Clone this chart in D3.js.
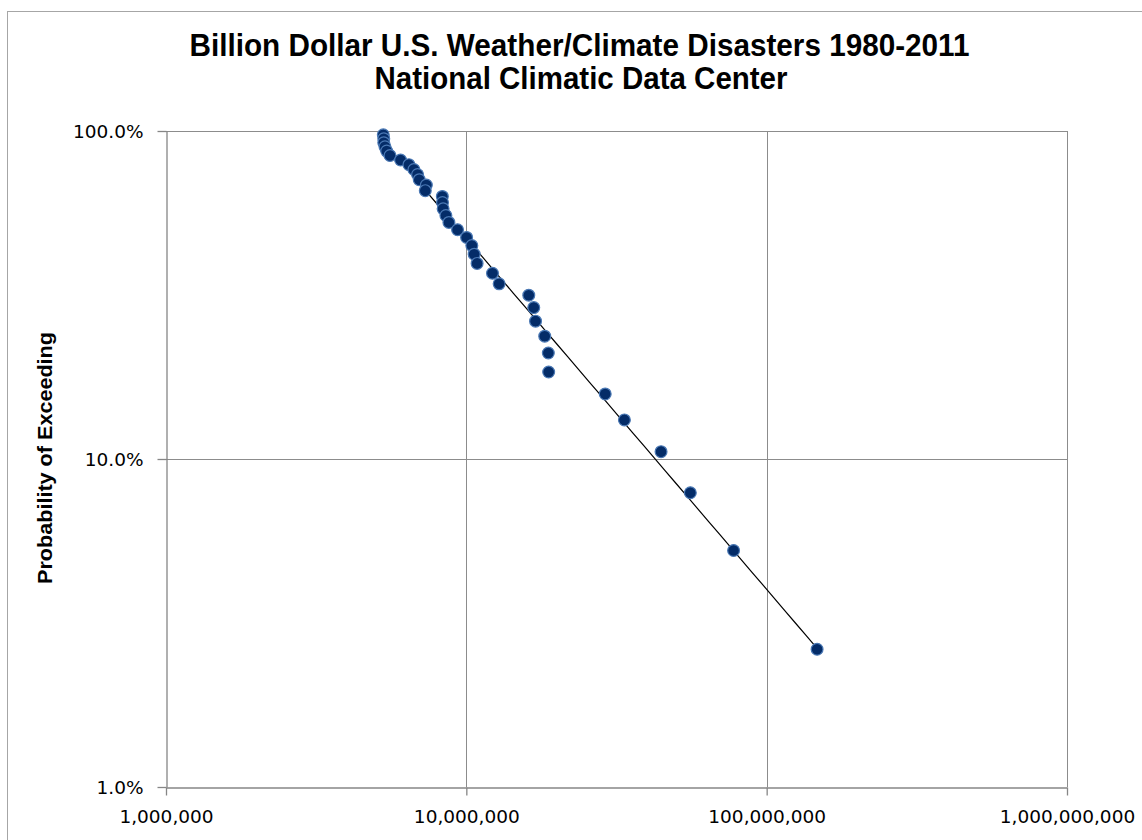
<!DOCTYPE html>
<html>
<head>
<meta charset="utf-8">
<script src="https://cdn.jsdelivr.net/npm/d3@7"></script>
<style>
  html, body { margin: 0; padding: 0; background: #fff; }
  svg { display: block; }
</style>
</head>
<body>
<div id="chart"></div>
<script>
// ---- data ----
const titleLines = ["Billion Dollar U.S. Weather/Climate Disasters 1980-2011", "National Climatic Data Center"];
const yAxisTitle = "Probability of Exceeding";
// loss values (thousand $), ranked from largest (rank 1) to smallest (rank 37)
const lossValues = [147200000, 77600000, 55700000, 44500000, 33600000, 29000000,
  18800000, 18750000, 18240000, 17000000, 16770000, 16140000, 12860000, 12220000,
  10860000, 10620000, 10430000, 10020000, 9350000, 8750000, 8550000, 8370000,
  8330000, 8320000, 7300000, 7360000, 6970000, 6880000, 6690000, 6440000,
  6040000, 5570000, 5430000, 5360000, 5310000, 5310000, 5290000];
// probability of exceeding for each rank: rank / (n + 1)
const exceedProb = [0.0263, 0.0526, 0.0789, 0.1053, 0.1316, 0.1579, 0.1842, 0.2105,
  0.2368, 0.2632, 0.2895, 0.3158, 0.3421, 0.3684, 0.3947, 0.4211, 0.4474, 0.4737,
  0.5000, 0.5263, 0.5526, 0.5789, 0.6053, 0.6316, 0.6579, 0.6842, 0.7105, 0.7368,
  0.7632, 0.7895, 0.8158, 0.8421, 0.8684, 0.8947, 0.9211, 0.9474, 0.9737];
const xTickValues = [1e6, 1e7, 1e8, 1e9];
const xTickLabels = ["1,000,000", "10,000,000", "100,000,000", "1,000,000,000"];
const yTickValues = [0.01, 0.1, 1];
const yTickLabels = ["1.0%", "10.0%", "100.0%"];

// ---- layout ----
const W = 1142, H = 840;
const plot = { left: 166, right: 1067, top: 131, bottom: 787 };
const gridColor = "#8c8c8c";
const axisColor = "#868686";

const svg = d3.select("#chart").append("svg").attr("width", W).attr("height", H);
svg.append("rect").attr("x", 0).attr("y", 0).attr("width", W).attr("height", H).attr("fill", "#fff");
// chart frame
svg.append("rect").attr("x", 7.5).attr("y", 11.5).attr("width", W + 10).attr("height", H + 10)
  .attr("fill", "none").attr("stroke", "#a6a6a6").attr("stroke-width", 1);

const x = d3.scaleLog().domain([1e6, 1e9]).range([plot.left, plot.right]);
const y = d3.scaleLog().domain([0.01, 1]).range([plot.bottom, plot.top]);

// gridlines
const g = svg.append("g");
g.selectAll("line.vg").data(xTickValues.slice(1)).join("line")
  .attr("x1", d => Math.round(x(d)) + 0.5).attr("x2", d => Math.round(x(d)) + 0.5)
  .attr("y1", plot.top).attr("y2", plot.bottom)
  .attr("stroke", gridColor).attr("stroke-width", 1);
g.selectAll("line.hg").data(yTickValues.slice(1)).join("line")
  .attr("y1", d => Math.round(y(d)) + 0.5).attr("y2", d => Math.round(y(d)) + 0.5)
  .attr("x1", plot.left).attr("x2", plot.right)
  .attr("stroke", gridColor).attr("stroke-width", 1);

// axes
const xAxis = d3.axisBottom(x).tickValues(xTickValues)
  .tickFormat((d, i) => xTickLabels[i]).tickSizeInner(8).tickSizeOuter(0).tickPadding(14);
const yAxis = d3.axisLeft(y).tickValues(yTickValues)
  .tickFormat((d, i) => yTickLabels[i]).tickSizeInner(9).tickSizeOuter(0).tickPadding(14);

const gx = svg.append("g").attr("transform", `translate(0,${plot.bottom + 0.5})`).call(xAxis);
const gy = svg.append("g").attr("transform", `translate(${plot.left + 0.5},0)`).call(yAxis);
[gx, gy].forEach(a => {
  a.select(".domain").attr("stroke", axisColor).attr("stroke-width", 1.3);
  a.selectAll(".tick line").attr("stroke", axisColor).attr("stroke-width", 1.3);
  a.selectAll(".tick text").attr("fill", "#000")
    .style("font-family", "'DejaVu Sans', sans-serif").style("font-size", "18.5px");
});
gy.selectAll(".tick text").attr("dy", "0.35em");

// trendline (power fit: least squares of log p on log x)
const lx = lossValues.map(v => Math.log10(v));
const ly = exceedProb.map(v => Math.log10(v));
const mx = d3.mean(lx), my = d3.mean(ly);
const slope = d3.sum(lx.map((v, i) => (v - mx) * (ly[i] - my))) / d3.sum(lx.map(v => (v - mx) * (v - mx)));
const icpt = my - slope * mx;
const xMin = d3.min(lossValues), xMax = d3.max(lossValues);
const trend = d3.range(0, 41).map(i => {
  const lv = Math.log10(xMin) + (Math.log10(xMax) - Math.log10(xMin)) * i / 40;
  return [Math.pow(10, lv), Math.pow(10, icpt + slope * lv)];
});
svg.append("path").datum(trend)
  .attr("d", d3.line().x(d => x(d[0])).y(d => y(d[1])))
  .attr("fill", "none").attr("stroke", "#000").attr("stroke-width", 1.2);

// points
const pts = lossValues.map((v, i) => ({ v, p: exceedProb[i] })).reverse();
svg.append("g").selectAll("circle").data(pts).join("circle")
  .attr("cx", d => x(d.v)).attr("cy", d => y(d.p)).attr("r", 5.9)
  .attr("fill", "#042c68").attr("stroke", "#4a78b4").attr("stroke-width", 1.2);

// title
svg.append("g").selectAll("text").data(titleLines).join("text")
  .attr("x", (d, i) => i === 0 ? 579.5 : 581).attr("y", (d, i) => i === 0 ? 56 : 89)
  .attr("text-anchor", "middle")
  .attr("textLength", (d, i) => i === 0 ? 780 : 413).attr("lengthAdjust", "spacingAndGlyphs")
  .style("font-family", "'Liberation Sans Narrow', 'Liberation Sans', sans-serif")
  .style("font-weight", "bold").style("font-size", "31px").attr("fill", "#000")
  .text(d => d);

// y-axis title
svg.append("text")
  .attr("transform", "translate(52,458) rotate(-90)")
  .attr("text-anchor", "middle")
  .attr("textLength", 252).attr("lengthAdjust", "spacingAndGlyphs")
  .style("font-family", "'Liberation Sans', sans-serif")
  .style("font-weight", "bold").style("font-size", "20px").attr("fill", "#000")
  .text(yAxisTitle);
</script>
</body>
</html>
